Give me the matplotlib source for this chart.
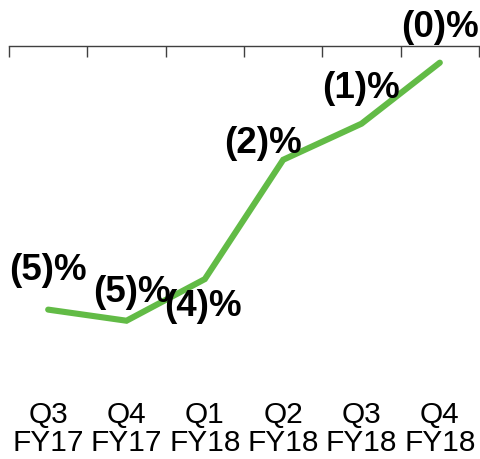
import numpy as np
import matplotlib
matplotlib.use("Agg")
import matplotlib.pyplot as plt

plt.rcParams["font.family"] = ["Liberation Sans", "DejaVu Sans"]

quarters = ["Q3\nFY17", "Q4\nFY17", "Q1\nFY18", "Q2\nFY18", "Q3\nFY18", "Q4\nFY18"]
growth = [-4.75, -4.95, -4.2, -2.05, -1.4, -0.3]
labels = ["(5)%", "(5)%", "(4)%", "(2)%", "(1)%", "(0)%"]
# label offsets in pixels (dx, dy)
offsets = [(0, 40), (5, 29), (-2, -26), (-20, 17), (0, 36), (0, 36)]

fig = plt.figure(figsize=(4.81, 4.60), dpi=100)
ax = fig.add_axes([9 / 481, 1 - 380 / 460, 470 / 481, 333 / 460])

x = np.arange(len(quarters)) + 0.5
ax.plot(x, growth, color="#62BB46", lw=4.4, solid_capstyle="round", solid_joinstyle="miter", clip_on=False)

for xi, yi, lab, (dx, dy) in zip(x, growth, labels, offsets):
    ax.annotate(lab, (xi, yi), xytext=(dx, dy), textcoords="offset pixels",
                ha="center", va="center", fontsize=26.5, fontweight="bold", color="black",
                annotation_clip=False)

ax.set_xlim(0, len(quarters))
ax.set_ylim(-6, 0)

for side in ["left", "right", "bottom"]:
    ax.spines[side].set_visible(False)
ax.spines["top"].set_color("#404040")
ax.spines["top"].set_linewidth(1.0)

ax.set_yticks([])
ax.set_xticks(x)
ax.set_xticklabels(quarters, fontsize=21.5, linespacing=1.0)
ax.set_xticks(np.arange(len(quarters) + 1), minor=True)
ax.tick_params(axis="x", which="major", bottom=True, top=False, length=0, pad=15)
ax.tick_params(axis="x", which="minor", bottom=False, top=True, direction="in",
               length=8, width=1.0, color="#404040")

fig.savefig("out.png", dpi=100)
